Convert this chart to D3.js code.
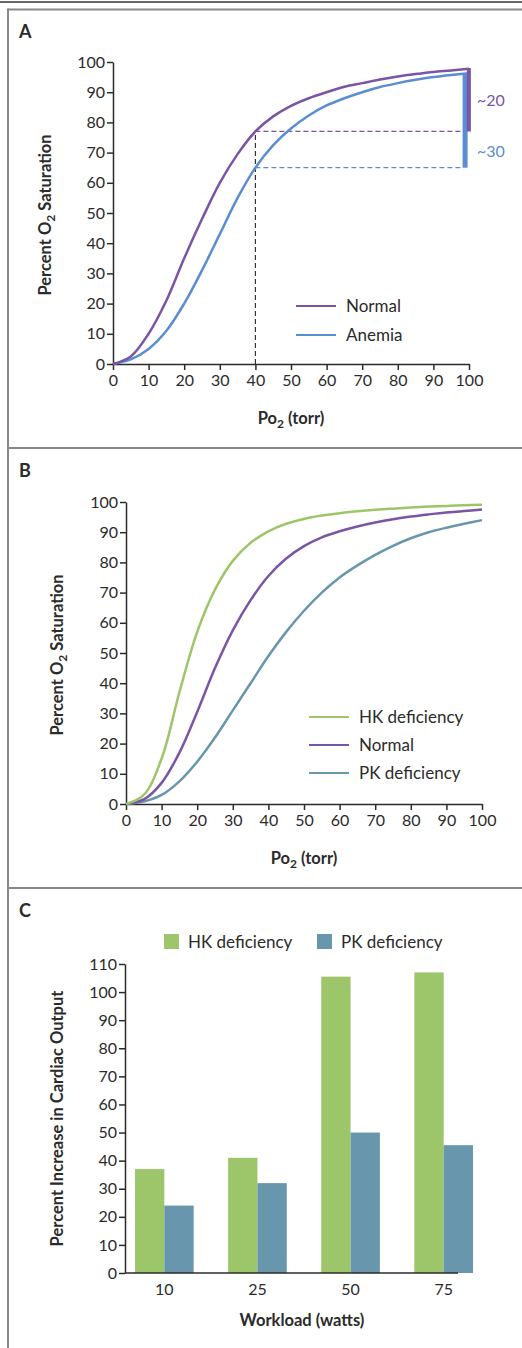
<!DOCTYPE html>
<html>
<head>
<meta charset="utf-8">
<script src="https://cdn.jsdelivr.net/npm/d3@7"></script>
<style>
  body { margin: 0; background: #fff; }
  text { font-family: Lato, "Open Sans", sans-serif; fill: #2b2b2b; }
  .axis path, .axis line { stroke: #2b2b2b; stroke-width: 1.5; }
  .axis text { font-family: Lato, "Open Sans", sans-serif; font-size: 16px; fill: #2b2b2b; }
</style>
</head>
<body>
<svg width="522" height="1348"></svg>
<script>
const po2 = d3.range(0, 101, 5);

// panel A
const normalA = [0, 2.5, 10, 21, 35, 48, 60, 69.5, 77, 82, 85.5, 88, 90, 91.8, 93, 94.2, 95.2, 96, 96.7, 97.2, 97.8];
const anemiaA = [0, 1.5, 5, 11, 20, 31, 43, 55, 65, 72.5, 78, 82.3, 85.6, 88, 90, 91.7, 93, 94.1, 95, 95.7, 96.3];

// panel B
const hkB = [0, 3, 15, 37, 57, 71, 80.5, 86.5, 90.3, 92.8, 94.4, 95.5, 96.3, 96.9, 97.4, 97.8, 98.2, 98.5, 98.7, 98.9, 99.1];
const normalB = [0, 1.5, 7, 17, 30.5, 45, 57.5, 67.5, 75.5, 81.3, 85.4, 88.3, 90.3, 91.9, 93.2, 94.3, 95.2, 95.9, 96.5, 97, 97.5];
const pkB = [0, 0.8, 3, 7.5, 14, 22, 31, 40, 49, 57, 64, 70, 75, 79, 82.5, 85.5, 88, 90, 91.5, 92.8, 94];

// panel C
const workloads = ["10", "25", "50", "75"];
const hkC = [37, 41, 105.5, 107];
const pkC = [24, 32, 50, 45.5];

const purple = "#7a55a6", blue = "#5b8dd3", green = "#9dc66b", teal = "#6896ad";

const svg = d3.select("svg");

// frame
svg.append("line").attr("x1", 0).attr("x2", 522).attr("y1", 2).attr("y2", 2)
  .attr("stroke", "#333").attr("stroke-width", 1.5);
[9.5, 448, 888].forEach(y => {
  svg.append("line").attr("x1", 8).attr("x2", 522).attr("y1", y).attr("y2", y)
    .attr("stroke", "#888").attr("stroke-width", 2);
});
svg.append("line").attr("x1", 8).attr("x2", 8).attr("y1", 8.5).attr("y2", 1348)
  .attr("stroke", "#888").attr("stroke-width", 2);

[["A", 38], ["B", 477], ["C", 917]].forEach(([l, y]) => {
  svg.append("text").attr("x", 19).attr("y", y).attr("font-size", 18)
    .attr("font-weight", "bold").text(l);
});

const subLabel = (g, x, y, pre, sub, post, rotate) => {
  const t = g.append("text").attr("font-size", 16.5).attr("font-weight", "bold")
    .attr("text-anchor", "middle")
    .attr("transform", `translate(${x},${y})` + (rotate ? " rotate(-90)" : ""));
  t.append("tspan").text(pre);
  t.append("tspan").attr("font-size", 12).attr("dy", 4).text(sub);
  t.append("tspan").attr("dy", -4).text(post);
};

const curvePanel = (opts) => {
  const x = d3.scaleLinear().domain([0, 100]).range([opts.x0, opts.x1]);
  const y = d3.scaleLinear().domain([0, 100]).range([opts.y0, opts.y1]);
  const g = svg.append("g");
  g.append("g").attr("class", "axis").attr("transform", `translate(0,${opts.y0})`)
    .call(d3.axisBottom(x).tickValues(d3.range(0, 101, 10)).tickSize(6).tickSizeOuter(0).tickPadding(5));
  g.append("g").attr("class", "axis").attr("transform", `translate(${opts.x0},0)`)
    .call(d3.axisLeft(y).tickValues(d3.range(0, 101, 10)).tickSize(6).tickSizeOuter(0).tickPadding(2));
  subLabel(g, (opts.x0 + opts.x1) / 2, opts.y0 + 60, "Po", "2", " (torr)");
  subLabel(g, opts.ylx, (opts.y0 + opts.y1) / 2 + 2, "Percent O", "2", " Saturation", true);
  const line = d3.line().x((d, i) => x(po2[i])).y(d => y(d)).curve(d3.curveCatmullRom);
  return { x, y, g, line };
};

// ---- panel A
const A = curvePanel({ x0: 113, x1: 469, y0: 364, y1: 62, ylx: 51 });
// dashed guides
A.g.append("line").attr("x1", A.x(40)).attr("x2", A.x(40)).attr("y1", A.y(0)).attr("y2", A.y(77))
  .attr("stroke", "#333").attr("stroke-width", 1.2).attr("stroke-dasharray", "5,3");
A.g.append("line").attr("x1", A.x(40)).attr("x2", A.x(99)).attr("y1", A.y(77)).attr("y2", A.y(77))
  .attr("stroke", purple).attr("stroke-width", 1.2).attr("stroke-dasharray", "5,3");
A.g.append("line").attr("x1", A.x(40)).attr("x2", A.x(98)).attr("y1", A.y(65)).attr("y2", A.y(65))
  .attr("stroke", blue).attr("stroke-width", 1.2).attr("stroke-dasharray", "5,3");
A.g.append("path").datum(anemiaA).attr("d", A.line).attr("fill", "none")
  .attr("stroke", blue).attr("stroke-width", 2.5);
A.g.append("path").datum(normalA).attr("d", A.line).attr("fill", "none")
  .attr("stroke", purple).attr("stroke-width", 2.5);
// difference bars
A.g.append("rect").attr("x", A.x(98.2)).attr("width", 5).attr("y", A.y(96.3)).attr("height", A.y(65) - A.y(96.3))
  .attr("fill", blue);
A.g.append("rect").attr("x", A.x(99.4)).attr("width", 4).attr("y", A.y(98)).attr("height", A.y(77) - A.y(98))
  .attr("fill", purple);
A.g.append("text").attr("x", 477).attr("y", A.y(85.5)).attr("font-size", 16).style("fill", purple).text("~20");
A.g.append("text").attr("x", 477).attr("y", A.y(68.5)).attr("font-size", 16).style("fill", blue).text("~30");

const legend = (g, items, lx, ly, gap) => {
  items.forEach(([name, col], i) => {
    g.append("line").attr("x1", lx).attr("x2", lx + 40).attr("y1", ly + i * gap).attr("y2", ly + i * gap)
      .attr("stroke", col).attr("stroke-width", 2);
    g.append("text").attr("x", lx + 50).attr("y", ly + i * gap + 6).attr("font-size", 17).text(name);
  });
};
legend(A.g, [["Normal", purple], ["Anemia", blue]], 296, 306, 29);

// ---- panel B
const B = curvePanel({ x0: 126, x1: 482, y0: 804, y1: 502, ylx: 63 });
[[pkB, teal], [normalB, purple], [hkB, green]].forEach(([d, c]) => {
  B.g.append("path").datum(d).attr("d", B.line).attr("fill", "none")
    .attr("stroke", c).attr("stroke-width", 2.5);
});
legend(B.g, [["HK deficiency", green], ["Normal", purple], ["PK deficiency", teal]], 309, 717, 28);

// ---- panel C
const xc = d3.scaleBand().domain(workloads).range([135, 473]).paddingInner(0.37).paddingOuter(0);
const xs = d3.scaleBand().domain(["hk", "pk"]).range([0, xc.bandwidth()]);
const yc = d3.scaleLinear().domain([0, 110]).range([1273, 964]);
const gc = svg.append("g");

const groups = gc.selectAll("g.grp").data(workloads).enter().append("g")
  .attr("transform", d => `translate(${xc(d)},0)`);
groups.append("rect").attr("x", xs("hk")).attr("width", xs.bandwidth())
  .attr("y", (d, i) => yc(hkC[i])).attr("height", (d, i) => yc(0) - yc(hkC[i])).attr("fill", green);
groups.append("rect").attr("x", xs("pk")).attr("width", xs.bandwidth())
  .attr("y", (d, i) => yc(pkC[i])).attr("height", (d, i) => yc(0) - yc(pkC[i])).attr("fill", teal);

gc.append("g").attr("class", "axis").attr("transform", `translate(125,0)`)
  .call(d3.axisLeft(yc).tickValues(d3.range(0, 111, 10)).tickSize(6).tickSizeOuter(0).tickPadding(2));
const xa = gc.append("g").attr("class", "axis").attr("transform", `translate(0,${yc(0)})`)
  .call(d3.axisBottom(xc).tickSize(0).tickPadding(11));
xa.select(".domain").remove();
gc.append("line").attr("x1", 125).attr("x2", 458).attr("y1", yc(0)).attr("y2", yc(0))
  .attr("stroke", "#2b2b2b").attr("stroke-width", 1.5);

gc.append("text").attr("x", 302).attr("y", 1326).attr("text-anchor", "middle")
  .attr("font-size", 16.5).attr("font-weight", "bold").text("Workload (watts)");
gc.append("text").attr("transform", `translate(63,${(yc(0) + yc(110)) / 2}) rotate(-90)`)
  .attr("text-anchor", "middle").attr("font-size", 16.5).attr("font-weight", "bold")
  .text("Percent Increase in Cardiac Output");

[["HK deficiency", green, 164], ["PK deficiency", teal, 317]].forEach(([n, c, lx]) => {
  gc.append("rect").attr("x", lx).attr("y", 934).attr("width", 15).attr("height", 15).attr("fill", c);
  gc.append("text").attr("x", lx + 24).attr("y", 948).attr("font-size", 17).text(n);
});
</script>
</body>
</html>
